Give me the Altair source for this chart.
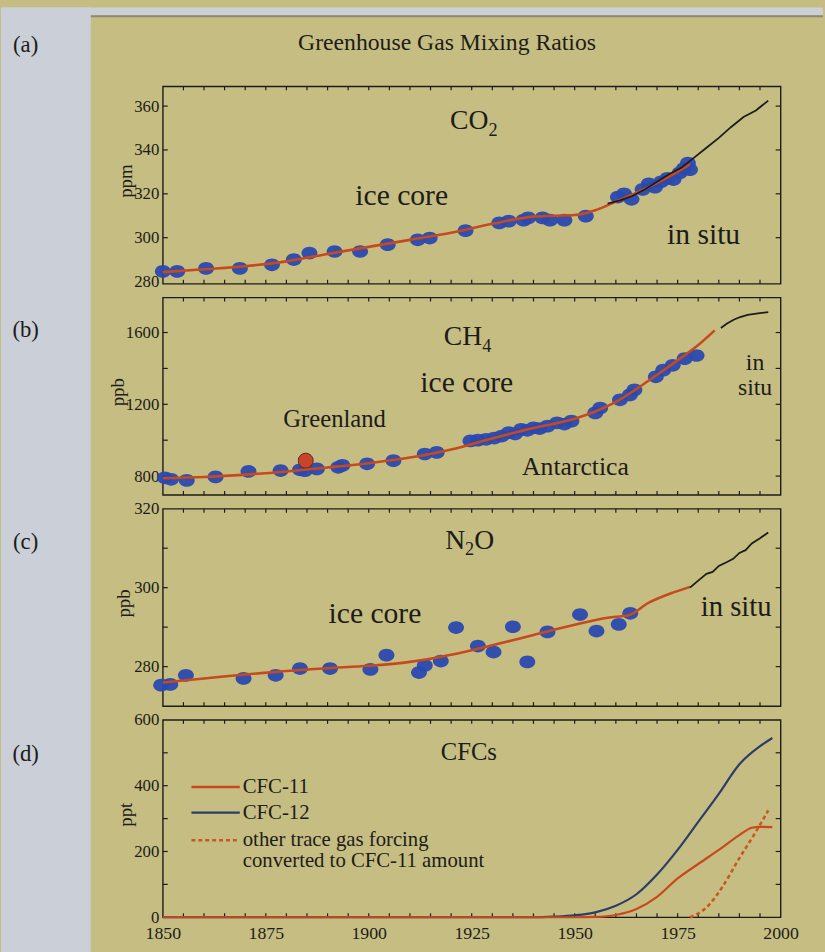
import altair as alt
import pandas as pd

FONT = "Liberation Serif"
TAN = "#c6bd83"
SIDE = "#cacfd8"
INK = "#1c1c18"
DOT = "#2a49b0"
FIT = "#c64a1d"
CFC12_COLOR = "#2c3e68"
TRACE_COLOR = "#c9581e"
# slightly flattened dot, as the ice-core samples appear in the figure
BLOB = "M -1 0 A 1 0.8 0 1 0 1 0 A 1 0.8 0 1 0 -1 0 Z"

W, H = 626, 200          # plot area of each panel
LEFT, TOP = 161, 77      # position of the first plot area on the page
PAGE_W, PAGE_H = 825, 952

# ---------------- CO2 (ppm) ----------------
co2_core_year = [1850, 1853.5, 1860.5, 1868.7, 1876.5, 1881.8, 1885.6, 1891.7, 1897.9,
                 1904.6, 1911.9, 1914.8, 1923.5, 1931.7, 1934, 1937.6, 1938.7, 1942.2,
                 1944, 1947.5, 1952.7, 1960.5, 1962, 1963.8, 1966.5, 1968, 1969.5, 1971,
                 1972.5, 1974, 1975.5, 1976.5, 1977.5, 1978]
co2_core_ppm = [284.6, 284.6, 286, 286, 287.6, 290, 293, 293.7, 293.7,
                296.8, 299, 299.8, 303.2, 306.7, 307.5, 308, 309, 309,
                308, 308, 309.8, 318.5, 320, 317.5, 322, 324.5, 323, 325.5,
                327, 326.5, 329.5, 331.5, 334, 331]
co2_fit_year = [1850, 1860, 1870, 1880, 1890, 1900, 1910, 1920, 1930, 1940, 1945,
                1950, 1955, 1960, 1965, 1970, 1975, 1978]
co2_fit_ppm = [284.3, 285.6, 287, 289.2, 292.6, 295.8, 299, 302.2, 306.3, 309.6, 310,
               310.3, 312.5, 316.5, 320.5, 325, 330, 333.5]
co2_insitu_year = [1958, 1961, 1964, 1967, 1970, 1973, 1976, 1979, 1982, 1985, 1988,
                   1991, 1994, 1997]
co2_insitu_ppm = [315.5, 317, 319, 322, 325.5, 329, 332, 336.5, 341, 345.5, 350.5,
                  355, 358, 362.5]

# ---------------- CH4 (ppb) ----------------
ch4_core_year = [1850.5, 1852, 1855.8, 1862.8, 1870.8, 1878.6, 1883.3, 1884.5, 1887.4,
                 1892.6, 1893.6, 1899.6, 1906, 1913.6, 1916.5, 1924.7, 1926.5, 1928.5,
                 1930.5, 1932.3, 1934, 1935.5, 1937, 1938.5, 1940, 1941.5, 1943.4,
                 1945.7, 1947.5, 1949.2, 1955, 1956.2, 1961, 1963.4, 1964.5, 1969.7,
                 1971.5, 1973.8, 1976.7, 1979.6]
ch4_core_ppb = [790, 782, 776, 795, 826, 831, 835, 830, 840,
                849, 859, 868, 886, 923, 932, 996, 1000, 1005,
                1012, 1023, 1042, 1035, 1060, 1055, 1069, 1065, 1078,
                1097, 1090, 1106, 1152, 1179, 1225, 1252, 1280, 1353,
                1390, 1417, 1454, 1472]
ch4_greenland_year = [1884.7]
ch4_greenland_ppb = [886]
ch4_fit_year = [1850, 1860, 1870, 1880, 1890, 1900, 1910, 1920, 1930, 1940, 1950,
                1955, 1960, 1965, 1970, 1975, 1980, 1984]
ch4_fit_ppb = [788, 795, 808, 826, 848, 872, 903, 948, 1010, 1068, 1120,
               1160, 1213, 1285, 1365, 1445, 1530, 1612]
ch4_insitu_year = [1985.5, 1987, 1988.5, 1990, 1992, 1994.5, 1997]
ch4_insitu_ppb = [1625, 1650, 1670, 1685, 1698, 1707, 1714]

# ---------------- N2O (ppb) ----------------
n2o_core_year = [1849.6, 1851.8, 1855.6, 1869.6, 1877.4, 1883.3, 1890.6, 1900.4,
                 1904.3, 1912.2, 1913.6, 1917.5, 1921.2, 1926.5, 1930.3, 1935,
                 1938.5, 1943.4, 1951.3, 1955.3, 1960.7, 1963.5]
n2o_core_ppb = [275.3, 275.5, 277.8, 277, 277.8, 279.5, 279.5, 279.3,
                282.9, 278.5, 280.3, 281.4, 289.9, 285.2, 283.7, 290.1,
                281.2, 288.8, 293.2, 289, 290.7, 293.5]
n2o_fit_year = [1850, 1860, 1870, 1880, 1890, 1900, 1910, 1920, 1930, 1940, 1950,
                1958, 1963, 1968, 1974, 1978]
n2o_fit_ppb = [276, 277, 278, 278.9, 279.6, 280.2, 281.2, 283, 285.4, 288, 290.6,
               292.4, 293, 296.2, 298.8, 300.2]
n2o_insitu_year = [1978, 1980, 1982, 1983.5, 1985, 1987, 1988.5, 1990, 1991.5, 1993,
                   1995, 1997]
n2o_insitu_ppb = [300, 301.8, 303.5, 304, 305.5, 306.5, 307.3, 308.8, 309.5, 311.2,
                  312.5, 314]

# ---------------- CFCs (ppt) ----------------
cfc12_year = [1850, 1940, 1945, 1950, 1955, 1960, 1965, 1970, 1975, 1980, 1985, 1990,
              1995, 1998]
cfc12_ppt = [0, 0, 2, 6, 15, 35, 70, 130, 205, 290, 375, 465, 520, 545]
cfc11_year = [1850, 1950, 1955, 1960, 1965, 1970, 1975, 1980, 1985, 1990, 1993, 1995,
              1998]
cfc11_ppt = [0, 0, 1, 7, 25, 62, 118, 162, 205, 250, 272, 275, 274]
trace_year = [1978, 1982, 1986, 1990, 1994, 1997]
trace_ppt = [0, 30, 95, 180, 260, 325]

# ---------------- axis ticks ----------------
year_labels = [1850, 1875, 1900, 1925, 1950, 1975, 2000]
year_minor = [1855, 1860, 1865, 1870, 1875, 1880, 1885, 1890, 1895, 1900, 1905, 1910,
              1915, 1920, 1925, 1930, 1935, 1940, 1945, 1950, 1955, 1960, 1965, 1970,
              1975, 1980, 1985, 1990, 1995]
co2_labels = [280, 300, 320, 340, 360]
co2_ticks = [300, 320, 340, 360]
ch4_labels = [800, 1200, 1600]
ch4_ticks = [800, 1000, 1200, 1400, 1600]
n2o_labels = [280, 300, 320]
n2o_ticks = [280, 290, 300, 310]
cfc_labels = [0, 200, 400, 600]
cfc_ticks = [100, 200, 300, 400, 500]

XS = alt.Scale(domain=[1850, 2000], nice=False, zero=False)
ONE = pd.DataFrame({"k": [0]})


def table(years, vals):
    return pd.DataFrame({"year": years, "val": vals})


def make_enc(ydomain, ylabels, bottom):
    xaxis = (alt.Axis(values=year_labels, format="d", title=None, labelFlush=False,
                      labelPadding=8, labelFontSize=18)
             if bottom else None)
    yaxis = alt.Axis(values=ylabels, format="d", title=None, labelPadding=4)
    ys = alt.Scale(domain=ydomain, nice=False, zero=False)

    def X():
        return alt.X("year:Q", scale=XS, axis=xaxis)

    def Y():
        return alt.Y("val:Q", scale=ys, axis=yaxis)
    return X, Y


def frame_ticks(X, Y, yticks):
    yt = table([0] * len(yticks), yticks)
    xt = table(year_minor, [0] * len(year_minor))
    style = dict(color=INK, strokeWidth=1.2)
    return [
        alt.Chart(xt).mark_rule(**style).encode(x=X(), y=alt.value(0), y2=alt.value(4)),
        alt.Chart(xt).mark_rule(**style).encode(x=X(), y=alt.value(H - 4), y2=alt.value(H)),
        alt.Chart(yt).mark_rule(**style).encode(y=Y(), x=alt.value(0), x2=alt.value(5)),
        alt.Chart(yt).mark_rule(**style).encode(y=Y(), x=alt.value(W - 5), x2=alt.value(W)),
    ]


def label(X, Y, text, year, val, size=30, align="center"):
    return alt.Chart(table([year], [val])).mark_text(
        font=FONT, fontSize=size, color=INK, align=align, baseline="middle"
    ).encode(x=X(), y=Y(), text=alt.value(text))


CHAR_EM = {"C": 0.667, "O": 0.722, "H": 0.722, "N": 0.722, "F": 0.556, "s": 0.389}


def formula(X, Y, parts, year, val, size=28):
    """Chemical formula with subscripted digits, centred on (year, val)."""
    sub = size * 0.66
    widths = []
    for txt, is_sub in parts:
        fs = sub if is_sub else size
        widths.append(sum(CHAR_EM.get(c, 0.5) for c in txt) * fs)
    start = -sum(widths) / 2
    layers = []
    for (txt, is_sub), w in zip(parts, widths):
        layers.append(alt.Chart(table([year], [val])).mark_text(
            font=FONT, fontSize=sub if is_sub else size, color=INK, align="left",
            baseline="middle", dx=start, dy=size * 0.3 if is_sub else 0
        ).encode(x=X(), y=Y(), text=alt.value(txt)))
        start += w
    return layers


def side_text(text, x, y, size=23, angle=0):
    return alt.Chart(ONE).mark_text(
        font=FONT, fontSize=size, color=INK, align="center", baseline="middle", angle=angle
    ).encode(x=alt.value(x), y=alt.value(y), text=alt.value(text))


def fit_line(X, Y, years, vals):
    return alt.Chart(table(years, vals)).mark_line(
        color=FIT, strokeWidth=2.6, interpolate="monotone").encode(x=X(), y=Y())


def insitu_line(X, Y, years, vals):
    return alt.Chart(table(years, vals)).mark_line(
        color=INK, strokeWidth=1.8).encode(x=X(), y=Y())


def dots(X, Y, years, vals, color=DOT, size=260):
    return alt.Chart(table(years, vals)).mark_point(
        shape=BLOB, filled=True, color=color, size=size, opacity=0.95
    ).encode(x=X(), y=Y())


def unit(text, x):
    return side_text(text, x, 96, size=19, angle=270)


# ---------------- (a) CO2 ----------------
X, Y = make_enc([279, 369], co2_labels, False)
page = [
    # page margins around the tan sheet
    alt.Chart(ONE).mark_rect(color=SIDE).encode(
        x=alt.value(-LEFT - 3), x2=alt.value(88 - LEFT),
        y=alt.value(-TOP - 3), y2=alt.value(PAGE_H - TOP + 20)),
    alt.Chart(ONE).mark_rect(color=SIDE).encode(
        x=alt.value(-LEFT - 3), x2=alt.value(PAGE_W - LEFT + 5),
        y=alt.value(-TOP - 3), y2=alt.value(5 - TOP)),
    alt.Chart(ONE).mark_rule(color="#8d8a70", strokeWidth=2).encode(
        x=alt.value(88 - LEFT), x2=alt.value(PAGE_W - LEFT + 5), y=alt.value(6 - TOP)),
    alt.Chart(ONE).mark_rect(color=TAN).encode(
        x=alt.value(PAGE_W - LEFT), x2=alt.value(PAGE_W - LEFT + 5),
        y=alt.value(PAGE_H - TOP), y2=alt.value(PAGE_H - TOP + 8)),
    alt.Chart(ONE).mark_text(font=FONT, fontSize=24, color=INK, align="center",
                             baseline="middle").encode(
        x=alt.value(288), y=alt.value(-44), text=alt.value("Greenhouse Gas Mixing Ratios")),
    side_text("(a)", -139, -42),
]
panel_a = alt.layer(
    *page,
    *frame_ticks(X, Y, co2_ticks),
    dots(X, Y, co2_core_year, co2_core_ppm),
    fit_line(X, Y, co2_fit_year, co2_fit_ppm),
    insitu_line(X, Y, co2_insitu_year, co2_insitu_ppm),
    *formula(X, Y, [("CO", False), ("2", True)], 1925.5, 353),
    label(X, Y, "ice core", 1908, 319),
    label(X, Y, "in situ", 1981.3, 301),
    unit("ppm", -37),
).properties(width=W, height=H)

# ---------------- (b) CH4 ----------------
X, Y = make_enc([695, 1795], ch4_labels, False)
panel_b = alt.layer(
    side_text("(b)", -139, 33),
    *frame_ticks(X, Y, ch4_ticks),
    dots(X, Y, ch4_core_year, ch4_core_ppb),
    alt.Chart(table(ch4_greenland_year, ch4_greenland_ppb)).mark_circle(
        color="#c9452a", size=230, opacity=1, stroke="#5a2a20", strokeWidth=1
    ).encode(x=X(), y=Y()),
    fit_line(X, Y, ch4_fit_year, ch4_fit_ppb),
    insitu_line(X, Y, ch4_insitu_year, ch4_insitu_ppb),
    *formula(X, Y, [("CH", False), ("4", True)], 1924, 1573),
    label(X, Y, "ice core", 1923.8, 1316),
    label(X, Y, "Greenland", 1891.7, 1115, size=25),
    label(X, Y, "Antarctica", 1950.2, 849, size=26),
    label(X, Y, "in", 1993.8, 1432, size=24),
    label(X, Y, "situ", 1993.8, 1290, size=24),
    unit("ppb", -45),
).properties(width=W, height=H)

# ---------------- (c) N2O ----------------
X, Y = make_enc([270, 320], n2o_labels, False)
panel_c = alt.layer(
    side_text("(c)", -139, 34),
    *frame_ticks(X, Y, n2o_ticks),
    dots(X, Y, n2o_core_year, n2o_core_ppb),
    fit_line(X, Y, n2o_fit_year, n2o_fit_ppb),
    insitu_line(X, Y, n2o_insitu_year, n2o_insitu_ppb),
    *formula(X, Y, [("N", False), ("2", True), ("O", False)], 1924.5, 311.8),
    label(X, Y, "ice core", 1901.5, 293.2),
    label(X, Y, "in situ", 1989.2, 295, size=29),
    unit("ppb", -39),
).properties(width=W, height=H)

# ---------------- (d) CFCs ----------------
X, Y = make_enc([0, 600], cfc_labels, True)


def legend_row(y, color, dash, text, text2=None):
    style = dict(color=color, strokeWidth=2.4)
    if dash:
        style["strokeDash"] = [4, 3]
    rows = [alt.Chart(ONE).mark_rule(**style).encode(
        x=alt.value(29), x2=alt.value(78), y=alt.value(y))]
    rows.append(alt.Chart(ONE).mark_text(font=FONT, fontSize=21, color=INK, align="left",
                                         baseline="middle").encode(
        x=alt.value(81), y=alt.value(y), text=alt.value(text)))
    if text2:
        rows.append(alt.Chart(ONE).mark_text(font=FONT, fontSize=21, color=INK,
                                             align="left", baseline="middle").encode(
            x=alt.value(81), y=alt.value(y + 21), text=alt.value(text2)))
    return rows


panel_d = alt.layer(
    side_text("(d)", -139, 35),
    *frame_ticks(X, Y, cfc_ticks),
    alt.Chart(table(cfc12_year, cfc12_ppt)).mark_line(
        color=CFC12_COLOR, strokeWidth=2.2, interpolate="monotone").encode(x=X(), y=Y()),
    alt.Chart(table(cfc11_year, cfc11_ppt)).mark_line(
        color=FIT, strokeWidth=2.2, interpolate="monotone").encode(x=X(), y=Y()),
    alt.Chart(table(trace_year, trace_ppt)).mark_line(
        color=TRACE_COLOR, strokeWidth=2.6, strokeDash=[4, 3],
        interpolate="monotone").encode(x=X(), y=Y()),
    label(X, Y, "CFCs", 1924.3, 502, size=25),
    *legend_row(68, FIT, False, "CFC-11"),
    *legend_row(94, CFC12_COLOR, False, "CFC-12"),
    *legend_row(122, TRACE_COLOR, True, "other trace gas forcing",
                "converted to CFC-11 amount"),
    unit("ppt", -37),
).properties(width=W, height=H)

chart = alt.vconcat(
    panel_a, panel_b, panel_c, panel_d, spacing=14, bounds="flush"
).properties(
    background=TAN, padding=0
).configure_view(
    stroke=INK, strokeWidth=1.4
).configure_axis(
    labelFont=FONT, labelFontSize=17, labelColor=INK, ticks=False, domain=False,
    grid=False
)

chart.save("out.html", embed_options={"renderer": "svg", "actions": False})
